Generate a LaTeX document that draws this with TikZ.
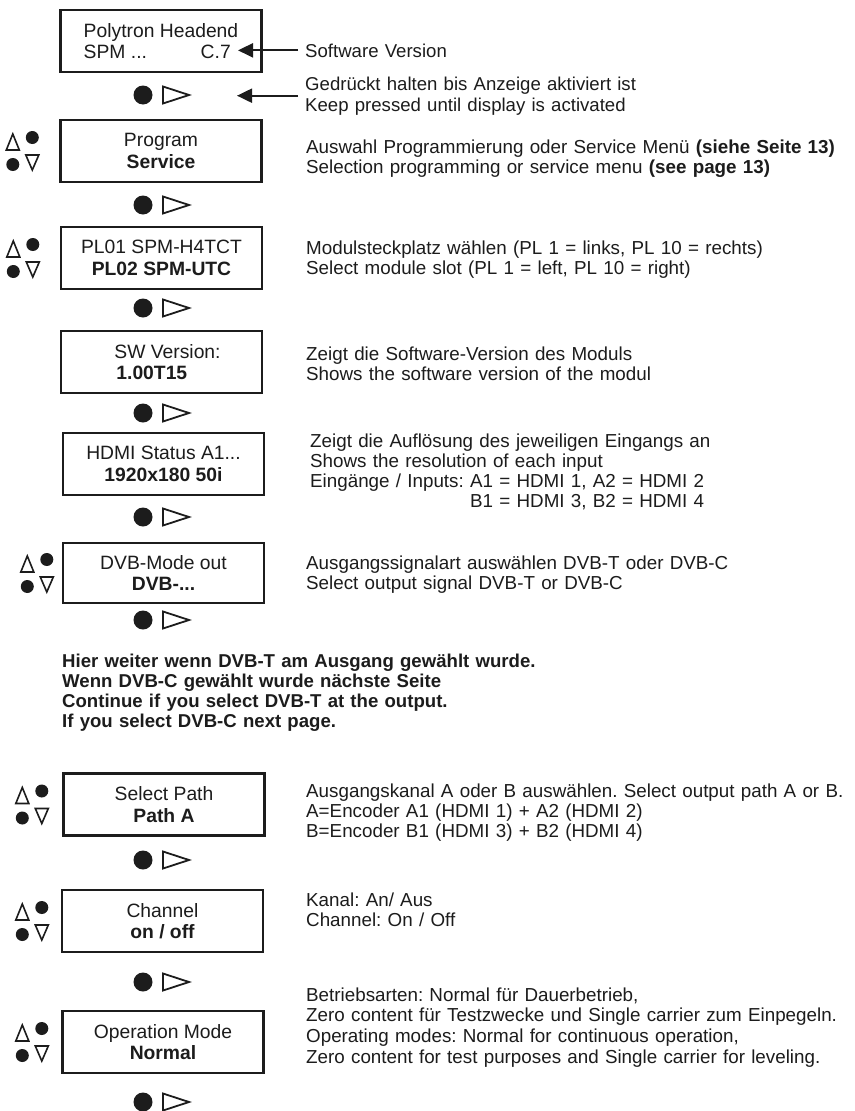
\documentclass[tikz,border=0pt]{standalone}
\usepackage{fontspec}
\setmainfont{Liberation Sans}
\usetikzlibrary{arrows.meta}
\definecolor{ink}{HTML}{1C1C1C}
\frenchspacing
\tikzset{
  display/.style={draw=ink, line width=2.4pt, minimum width=201pt, minimum height=62pt,
    inner sep=0pt, align=center, text=ink, font=\fontsize{19.3}{21.5}\selectfont},
  note/.style={anchor=base west, inner sep=0pt, text width=600pt, align=left, text=ink,
    font=\fontsize{18.8}{20}\selectfont},
  topnote/.style={note, font=\fontsize{18.6}{21}\selectfont},
  boldnote/.style={note, font=\bfseries\fontsize{18.6}{20}\selectfont},
  pointer/.style={draw=ink, line width=2pt, -{Triangle[length=15pt,width=14pt]}},
}
% OK key: dot and open triangle
\newcommand{\okkey}[1]{%
  \begin{scope}[shift={#1}]
    \fill[ink] (-20,0) circle (9.5);
    \draw[ink, line width=1.8pt] (0,-8.5) -- (26,0) -- (0,8.5) -- cycle;
  \end{scope}}
% up/down keys left of a display
\newcommand{\updown}[2]{%
  \path (#2.west) ++(#1,0) coordinate (#2ud);
  \begin{scope}[shift={(#2ud)}, ink, line width=1.6pt]
    \draw (0,-1) -- (13,-1) -- (6.5,-17) -- cycle;
    \fill (26,-13.5) circle (6.5);
    \fill (6.5,13.5) circle (6.5);
    \draw (19.5,4) -- (32.5,4) -- (26,19) -- cycle;
  \end{scope}}

\begin{document}
\begin{tikzpicture}[x=1pt, y=-1pt]
  \useasboundingbox[fill=white] (0,0) rectangle (854,1111);

  % displays
  \node[display, align=left] (head) at (161,41) {Polytron Headend\\\makebox[147pt]{SPM ...\hfill C.7}};
  \node[display] (prog) at (161,151) {Program\\\textbf{Service}};
  \node[display] (slot) at (161.5,258) {PL01 SPM-H4TCT\\\textbf{PL02 SPM-UTC}};
  \node[display, align=left] (swver) at (161.5,362) {\hspace*{12pt}SW Version:\\\hspace*{14pt}\textbf{1.00T15}};
  \node[display] (hdmi) at (163.5,464) {HDMI Status A1...\\\textbf{1920x180 50i}};
  \node[display, minimum height=60pt] (mode) at (163.5,573) {DVB-Mode out\\\textbf{DVB-...}};
  \node[display] (path) at (164,804.5) {Select Path\\\textbf{Path A}};
  \node[display] (chan) at (162.5,921) {Channel\\\textbf{on / off}};
  \node[display] (oper) at (163,1042) {Operation Mode\\\textbf{Normal}};

  % keys
  \foreach \ky in {95,205,308,413,517,620,860,982,1102}
    \okkey{(163,\ky)};
  \updown{-53}{prog}
  \updown{-53}{slot}
  \updown{-41}{mode}
  \updown{-46.5}{path}
  \updown{-45}{chan}
  \updown{-45.5}{oper}

  % notes
  \node[topnote] (swnote) at (305,57) {Software Version};
  \node[topnote] (hold) at (305,90) {Gedrückt halten bis Anzeige aktiviert ist\\Keep pressed until display is activated};
  \node[note] (prognote) at (306,153) {Auswahl Programmierung oder Service Menü \textbf{(siehe Seite 13)}\\Selection programming or service menu \textbf{(see page 13)}};
  \node[note] (slotnote) at (306,254) {Modulsteckplatz wählen (PL 1 = links, PL 10 = rechts)\\Select module slot (PL 1 = left, PL 10 = right)};
  \node[note] (vernote) at (306,360) {Zeigt die Software-Version des Moduls\\Shows the software version of the modul};
  \node[note] (hdminote) at (310,447) {Zeigt die Auflösung des jeweiligen Eingangs an\\Shows the resolution of each input\\Eingänge / Inputs: A1 = HDMI 1, A2 = HDMI 2\\\phantom{Eingänge / Inputs: }B1 = HDMI 3, B2 = HDMI 4};
  \node[note] (modenote) at (306,569) {Ausgangssignalart auswählen DVB-T oder DVB-C\\Select output signal DVB-T or DVB-C};
  \node[boldnote] (dvbtnote) at (62,667) {Hier weiter wenn DVB-T am Ausgang gewählt wurde.\\Wenn DVB-C gewählt wurde nächste Seite\\Continue if you select DVB-T at the output.\\If you select DVB-C next page.};
  \node[note] (pathnote) at (306,797) {Ausgangskanal A oder B auswählen. Select output path A or B.\\A=Encoder A1 (HDMI 1) + A2 (HDMI 2)\\B=Encoder B1 (HDMI 3) + B2 (HDMI 4)};
  \node[note] (channote) at (306,906) {Kanal: An/ Aus\\Channel: On / Off};
  \node[note, font=\fontsize{18.8}{20.7}\selectfont] (opernote) at (306,1001) {Betriebsarten: Normal für Dauerbetrieb,\\Zero content für Testzwecke und Single carrier zum Einpegeln.\\Operating modes: Normal for continuous operation,\\Zero content for test purposes and Single carrier for leveling.};

  % pointers
  \draw[pointer] ([xshift=-7pt]swnote.west) -- ([xshift=-67pt]swnote.west);
  \draw[pointer] ([xshift=-7pt]hold.west) -- ([xshift=-68pt]hold.west);
\end{tikzpicture}
\end{document}
